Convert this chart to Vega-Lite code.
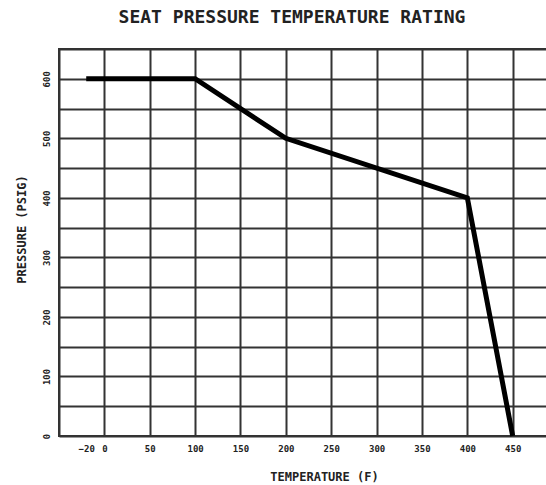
{
  "$schema": "https://vega.github.io/schema/vega-lite/v6.json",
  "width": 490,
  "height": 387,
  "autosize": {"type": "none"},
  "padding": {"left": 59, "top": 49, "right": 0, "bottom": 49},
  "background": "white",
  "title": {
    "text": "SEAT PRESSURE TEMPERATURE RATING",
    "font": "DejaVu Sans Mono",
    "fontSize": 18,
    "fontWeight": "bold",
    "color": "#222",
    "offset": 22,
    "dx": -12
  },
  "config": {
    "view": {"stroke": "#333", "strokeWidth": 2},
    "axis": {
      "labelFont": "DejaVu Sans Mono",
      "titleFont": "DejaVu Sans Mono",
      "labelColor": "#222",
      "titleColor": "#222"
    }
  },
  "data": {
    "values": [
      {"temp": -20, "pressure": 600},
      {"temp": 100, "pressure": 600},
      {"temp": 200, "pressure": 500},
      {"temp": 400, "pressure": 400},
      {"temp": 450, "pressure": 0}
    ]
  },
  "layer": [
    {
      "mark": {"type": "line", "color": "black", "strokeWidth": 5, "strokeCap": "butt", "strokeJoin": "miter"},
      "encoding": {
        "x": {
          "field": "temp",
          "type": "quantitative",
          "scale": {"domain": [-50, 490], "nice": false, "zero": false},
          "axis": {
            "values": [-20, 0, 50, 100, 150, 200, 250, 300, 350, 400, 450],
            "grid": false,
            "ticks": false,
            "domain": false,
            "labelFontSize": 9,
            "labelFontWeight": "bold",
            "labelPadding": 8,
            "title": "TEMPERATURE (F)",
            "titleFontSize": 12,
            "titleFontWeight": "bold",
            "titlePadding": 18,
            "titleX": 265
          }
        },
        "y": {
          "field": "pressure",
          "type": "quantitative",
          "scale": {"domain": [0, 650], "nice": false},
          "axis": {
            "values": [0, 100, 200, 300, 400, 500, 600],
            "grid": false,
            "ticks": false,
            "domain": false,
            "labelAngle": -90,
            "labelFontSize": 9,
            "labelFontWeight": "bold",
            "labelPadding": 8,
            "labelAlign": "center",
            "labelBaseline": "bottom",
            "title": "PRESSURE (PSIG)",
            "titleFontSize": 12,
            "titleFontWeight": "bold",
            "titlePadding": 14,
            "titleY": 180
          }
        }
      }
    },
    {
      "mark": {"type": "line", "opacity": 0},
      "encoding": {
        "x": {
          "field": "temp",
          "type": "quantitative",
          "axis": {
            "values": [-50, 0, 50, 100, 150, 200, 250, 300, 350, 400, 450],
            "grid": true,
            "gridColor": "#333",
            "gridWidth": 2,
            "gridOpacity": 1,
            "labels": false,
            "ticks": false,
            "domain": false,
            "title": null,
            "orient": "top"
          }
        },
        "y": {
          "field": "pressure",
          "type": "quantitative",
          "axis": {
            "values": [0, 50, 100, 150, 200, 250, 300, 350, 400, 450, 500, 550, 600, 650],
            "grid": true,
            "gridColor": "#333",
            "gridWidth": 2,
            "gridOpacity": 1,
            "labels": false,
            "ticks": false,
            "domain": false,
            "title": null,
            "orient": "right"
          }
        }
      }
    }
  ],
  "resolve": {"axis": {"x": "independent", "y": "independent"}}
}
